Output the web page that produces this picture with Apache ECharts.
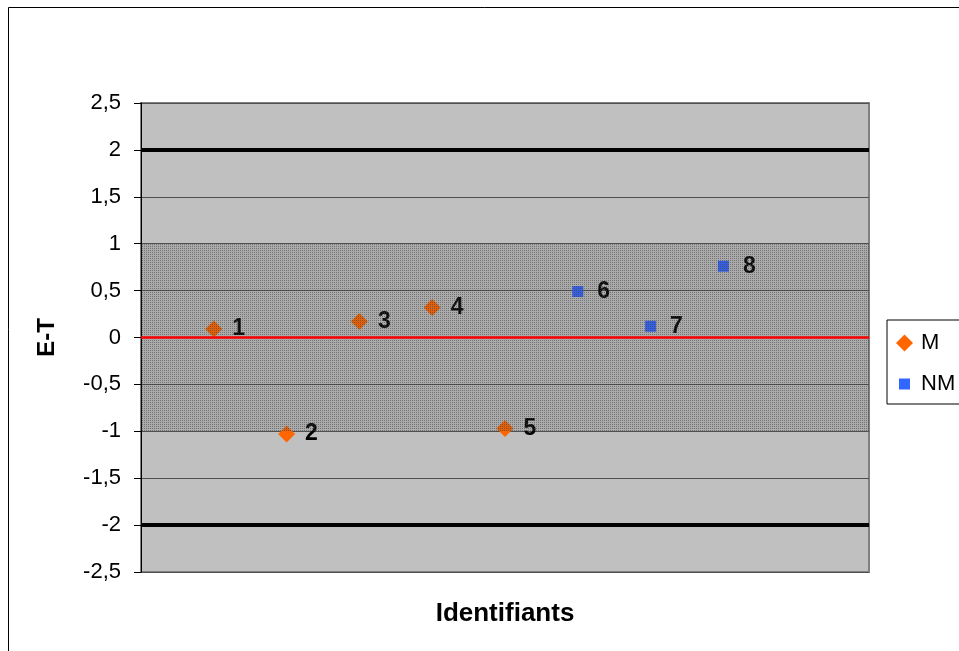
<!DOCTYPE html>
<html>
<head>
<meta charset="utf-8">
<script src="https://cdn.jsdelivr.net/npm/echarts@6/dist/echarts.min.js"></script>
<style>html,body{margin:0;padding:0;background:#fff;}#c{width:959px;height:651px;}</style>
</head>
<body>
<div id="c"></div>
<script>
// ---- data ----
var mIds = [1, 2, 3, 4, 5];
var mValues = [0.09, -1.03, 0.17, 0.32, -0.97];
var nmIds = [6, 7, 8];
var nmValues = [0.49, 0.12, 0.76];
var seriesNames = ['M', 'NM'];
var yTickValues = [-2.5, -2, -1.5, -1, -0.5, 0, 0.5, 1, 1.5, 2, 2.5];
var yTickLabels = ['-2,5', '-2', '-1,5', '-1', '-0,5', '0', '0,5', '1', '1,5', '2', '2,5'];
var bandRange = [-1, 1];
var limitLines = [-2, 2];
var zeroLine = [0];
var xTitle = 'Identifiants';
var yTitle = 'E-T';

// sparse dot pattern for the band texture
var pc = document.createElement('canvas');
pc.width = 2; pc.height = 2;
var pctx = pc.getContext('2d');
pctx.clearRect(0, 0, 2, 2);
pctx.fillStyle = 'rgba(60,60,60,0.5)';
pctx.fillRect(0, 0, 1, 1);

var font = "'Liberation Sans', Arial, sans-serif";

function pairs(ids, vals) { return ids.map(function (id, i) { return [id, vals[i]]; }); }

var chart = echarts.init(document.getElementById('c'), null, { renderer: 'canvas' });
chart.setOption({
  animation: false,
  backgroundColor: '#fff',
  graphic: [{
    type: 'rect', silent: true, z: -10,
    shape: { x: 8.5, y: 7.5, width: 1200, height: 900 },
    style: { fill: 'none', stroke: '#000', lineWidth: 1 }
  }],
  grid: {
    left: 141, right: 90, top: 103, bottom: 79,
    show: true, backgroundColor: '#C0C0C0', borderColor: '#808080', borderWidth: 2
  },
  legend: {
    orient: 'vertical', left: 887, top: 320,
    backgroundColor: '#fff', borderColor: '#000', borderWidth: 1,
    padding: [12, 30, 9, 9], itemGap: 19, itemWidth: 17, itemHeight: 17,
    textStyle: { fontFamily: font, fontSize: 22, lineHeight: 22, color: '#000', padding: [0, 0, 0, 3] },
    data: [
      { name: seriesNames[0], icon: 'diamond' },
      { name: seriesNames[1], icon: 'path://M0,0 M17,17 M3,3 L14,3 L14,14 L3,14 Z' }
    ]
  },
  xAxis: {
    type: 'value', min: 0, max: 10,
    name: xTitle, nameLocation: 'middle', nameGap: 29,
    nameTextStyle: { fontFamily: font, fontSize: 26, fontWeight: 'bold', color: '#000' },
    axisLine: { show: false }, axisTick: { show: false }, axisLabel: { show: false },
    splitLine: { show: false }
  },
  yAxis: {
    type: 'value', min: -2.5, max: 2.5, interval: 0.5,
    name: yTitle, nameLocation: 'middle', nameGap: 82, nameRotate: 90,
    nameTextStyle: { fontFamily: font, fontSize: 24, fontWeight: 'bold', color: '#000' },
    axisLine: { show: true, lineStyle: { color: '#000', width: 1 } },
    axisTick: { show: true, inside: false, length: 7, lineStyle: { color: '#000' } },
    axisLabel: {
      fontFamily: font, fontSize: 22, color: '#000', margin: 20,
      formatter: function (v) {
        var i = yTickValues.findIndex(function (t) { return Math.abs(t - v) < 1e-9; });
        return i >= 0 ? yTickLabels[i] : '';
      }
    },
    splitLine: { show: true, lineStyle: { color: '#505050', width: 1 } }
  },
  series: [
    {
      name: seriesNames[0], type: 'scatter', z: 2,
      symbol: 'diamond', symbolSize: 17,
      itemStyle: { color: '#FF6600', opacity: 1 },
      label: {
        show: true, position: 'right', distance: 10,
        formatter: function (p) { return String(p.value[0]); },
        fontFamily: font, fontSize: 23, fontWeight: 'bold', color: '#000'
      },
      data: pairs(mIds, mValues)
    },
    {
      name: seriesNames[1], type: 'scatter', z: 2,
      symbol: 'rect', symbolSize: 11,
      itemStyle: { color: '#3366FF', opacity: 1 },
      label: {
        show: true, position: 'right', distance: 14,
        formatter: function (p) { return String(p.value[0]); },
        fontFamily: font, fontSize: 23, fontWeight: 'bold', color: '#000'
      },
      data: pairs(nmIds, nmValues)
    },
    {
      name: 'band', type: 'scatter', z: 5, data: [], silent: true,
      markArea: {
        silent: true, z: 5,
        data: [
          [{ yAxis: bandRange[0], itemStyle: { color: 'rgba(70,70,70,0.17)' } }, { yAxis: bandRange[1] }],
          [{ yAxis: bandRange[0], itemStyle: { color: { image: pc, repeat: 'repeat' } } }, { yAxis: bandRange[1] }]
        ]
      }
    },
    {
      name: 'lines', type: 'scatter', z: 6, data: [], silent: true,
      markLine: {
        silent: true, z: 6, symbol: ['none', 'none'], label: { show: false },
        data: limitLines.map(function (v) {
          return { yAxis: v, lineStyle: { color: '#000', width: 4, type: 'solid' } };
        }).concat(zeroLine.map(function (v) {
          return { yAxis: v, lineStyle: { color: '#FF0000', width: 2.5, type: 'solid' } };
        }))
      }
    }
  ]
});
</script>
</body>
</html>
